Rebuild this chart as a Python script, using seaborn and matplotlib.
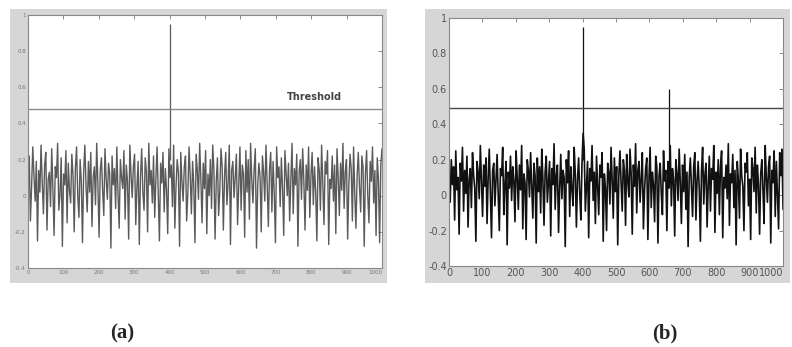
import numpy as np
import pandas as pd
import seaborn as sns
import matplotlib.pyplot as plt
from matplotlib.patches import Rectangle

# noise, in hundredths, evenly spread over 0..1000
noise_a = [
    8, 22, -14, 5, 27, 11, -3, 19, -25, 14, 2, 28, 7, -10, 17, 24, -19, 9, 13, -6,
    26, 4, -22, 16, 10, 29, -8, 1, 21, -28, 12, 6, 25, -15, 18, 3, -4, 23, 11, -20,
    15, 27, 0, -12, 20, 8, -26, 13, 28, 5, -9, 19, 2, 24, -17, 10, 16, -5, 29, 7,
    -23, 14, 21, 3, -11, 26, 9, -2, 18, 12, -29, 22, 6, 15, -7, 27, 1, -18, 20, 10,
    4, 25, -13, 17, 8, -24, 28, 12, -1, 16, 23, -16, 5, 19, -27, 11, 26, 2, -8, 21,
    13, -20, 29, 6, 14, -4, 22, -12, 9, 27, 0, -25, 18, 7, 24, -9, 15, 3, -21, 26,
    10, 17, -6, 28, -18, 5, 20, 13, -28, 24, 8, -3, 16, 22, -14, 1, 27, 11, -10, 19,
    6, -26, 23, 14, -2, 29, 9, -15, 18, 4, 25, -21, 12, 0, 20, -7, 28, 15, -24, 8,
    21, -11, 3, 26, 16, -19, 11, 24, -5, 7, 28, -27, 14, 19, -1, 10, 23, -16, 6, 27,
    -8, 17, 12, -23, 25, 2, 20, -13, 29, 9, -4, 15, 26, -29, 5, 18, 11, -20, 22, 13,
    -3, 28, 7, -17, 14, 24, -9, 19, 1, -26, 27, 10, 16, -6, 21, 4, -22, 25, 12, 0,
    18, -14, 9, 29, -10, 15, 6, 23, -28, 13, 20, -2, 26, 8, -19, 17, 3, 27, -12, 11,
    24, -5, 16, 2, -25, 21, 14, -8, 28, 7, -16, 19, 12, 25, -27, 9, 4, 22, -3, 17,
    -21, 26, 10, -11, 18, 3, 29, -7, 13, 20, -24, 6, 23, 15, -14, 27, 1, -18, 11, 24,
    5, -9, 22, 16, -28, 12, 25, 0, -15, 19, 8, 27, -4, 14, -22, 21, 9, -26, 17, 26,
]
noise_b = [
    12, -4, 20, 6, 16, -14, 25, 3, 10, -22, 18, 8, 27, -9, 14, 1, 22, -18, 9, 15,
    -7, 24, 11, 4, -26, 19, 13, -2, 28, 7, -12, 17, 5, 21, -16, 10, 26, 2, -24, 14,
    18, -6, 9, 23, 0, -20, 15, 11, 27, -11, 6, 19, -28, 13, 4, 22, -3, 16, 8, -15,
    25, 10, -8, 17, 3, 28, -19, 12, 7, -25, 20, 14, -1, 24, 5, -13, 18, 11, -27, 21,
    2, 16, -10, 26, 9, -17, 13, 22, -4, 8, 19, -23, 15, 6, 29, -8, 11, 17, -21, 4,
    23, -2, 14, 10, -29, 20, 7, 25, -12, 16, 3, -6, 27, 12, -18, 9, 21, 1, -14, 18,
    35, 26, -9, 5, 19, -24, 15, 8, 28, -3, 13, -16, 22, 6, -11, 17, 10, 24, -26, 12,
    4, -20, 18, 13, -5, 27, 9, -13, 21, 2, 16, -28, 11, 25, 7, -9, 20, 14, -17, 23,
    8, -1, 26, 12, -22, 17, 5, 29, -10, 14, 19, -4, 9, 24, -19, 3, 15, 21, -25, 10,
    27, -7, 13, 6, -15, 22, 16, -27, 11, 18, 1, -11, 25, 8, 14, -20, 19, 4, 28, -6,
    15, 9, -23, 20, 12, -3, 26, 7, -16, 17, 2, 23, -8, 13, -29, 10, 21, 5, -12, 16,
    24, -14, 8, 19, 3, -26, 14, 27, -5, 11, 18, -18, 6, 22, -9, 15, 9, 28, -21, 13,
    1, 20, -11, 16, 25, -24, 10, 4, 17, -2, 29, -17, 12, 7, 23, -7, 14, -28, 19, 8,
    -13, 26, 11, 5, -20, 18, 13, 24, -6, 9, -25, 21, 15, 2, 27, -10, 17, 6, -22, 12,
    20, 3, -16, 28, 10, -4, 16, 22, -27, 14, 7, 25, -12, 19, 0, -19, 24, 11, 26, -8,
]

# detection peaks and thresholds
spike_x_a = [400]
spike_top_a = [0.95]
spike_x_b = [400, 660]
spike_top_b = [0.95, 0.60]
threshold_a = 0.48
threshold_b = 0.49

x_ticks = list(range(0, 1001, 100))
y_ticks = [-0.4, -0.2, 0, 0.2, 0.4, 0.6, 0.8, 1]
y_ticklabels = ['-0.4', '-0.2', '0', '0.2', '0.4', '0.6', '0.8', '1']


def make_frame(noise):
    n = len(noise)
    return pd.DataFrame({'sample': np.linspace(0, 1000, n),
                         'value': np.array(noise) / 100.0})


def draw_panel(fig, ax_rect, frame_rect, df, spike_x, spike_top, thr,
               line_color, lw, thr_color, tick_size, tick_color, label_pos, label):
    # grey matlab-like window behind the axes
    fig.patches.append(Rectangle(frame_rect[:2], frame_rect[2], frame_rect[3],
                                 transform=fig.transFigure, facecolor='#d6d6d6',
                                 edgecolor='none', zorder=-5))
    ax = fig.add_axes(ax_rect)
    sns.lineplot(data=df, x='sample', y='value', ax=ax, color=line_color,
                 linewidth=lw, estimator=None)
    ax.vlines(spike_x, 0.2, spike_top, color=line_color, linewidth=0.9)
    ax.axhline(thr, color=thr_color, linewidth=1.0)
    ax.set_xlim(0, 1000)
    ax.set_ylim(-0.4, 1)
    ax.set_xticks(x_ticks)
    ax.set_yticks(y_ticks)
    ax.set_yticklabels(y_ticklabels)
    ax.tick_params(direction='in', length=3, width=0.6, top=True, right=True,
                   labelsize=tick_size, labelcolor=tick_color, color='#777777',
                   pad=1.5)
    ax.get_xticklabels()[-1].set_horizontalalignment('right')
    ax.set_xlabel('')
    ax.set_ylabel('')
    for s in ax.spines.values():
        s.set_color('#888888')
        s.set_linewidth(0.8)
    ax.set_facecolor('white')
    fig.text(label_pos[0], label_pos[1], label, ha='center', va='center',
             fontsize=15, fontweight='bold', family='Liberation Serif')
    return ax


sns.set_theme(style='white')
fig = plt.figure(figsize=(7.92, 3.47), dpi=100)

ax_a = draw_panel(fig, [0.0354, 0.2277, 0.4469, 0.729],
                  [0.0126, 0.1844, 0.476, 0.790],
                  make_frame(noise_a), spike_x_a, spike_top_a, threshold_a,
                  '#5a5a5a', 1.0, '#8a8a8a', 4, '#777777', (0.154, 0.038), '(a)')
ax_a.text(730, 0.53, 'Threshold', fontsize=7, fontweight='bold', color='#444444')

ax_b = draw_panel(fig, [0.567, 0.2334, 0.4217, 0.7147],
                  [0.5366, 0.1844, 0.461, 0.790],
                  make_frame(noise_b), spike_x_b, spike_top_b, threshold_b,
                  '#111111', 1.2, '#444444', 7, '#555555', (0.840, 0.038), '(b)')

fig.savefig('out.png', dpi=100)
